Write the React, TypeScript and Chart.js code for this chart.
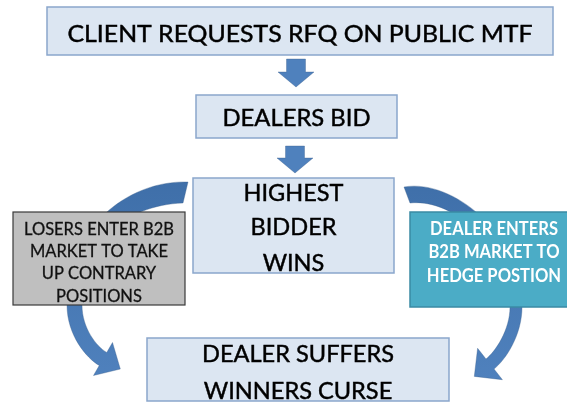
import { useEffect, useRef } from "react";
import { Chart, registerables } from "chart.js";

Chart.register(...registerables);

const W = 567;
const H = 402;

// ---- content ----
const stepNames = ["request", "bid", "winner", "losers", "hedge", "curse"];
const stepLines: string[][] = [
  ["CLIENT REQUESTS RFQ ON PUBLIC MTF"],
  ["DEALERS BID"],
  ["HIGHEST", "BIDDER", "WINS"],
  ["LOSERS ENTER B2B", "MARKET TO TAKE", "UP CONTRARY", "POSITIONS"],
  ["DEALER ENTERS", "B2B MARKET TO", "HEDGE POSTION"],
  ["DEALER SUFFERS", "WINNERS CURSE"],
];
const stepKinds = ["main", "main", "main", "gray", "teal", "main"];

// ---- layout (diagram units = px of the 567x402 picture) ----
const boxLayout: Record<string, { x0: number; x1: number; y0: number; y1: number; caps: number[]; font: number; fit: number }> = {
  request: { x0: 47, x1: 553, y0: 7, y1: 55, caps: [33], font: 23, fit: 465 },
  bid: { x0: 196, x1: 397, y0: 95, y1: 138, caps: [117], font: 23.5, fit: 148 },
  winner: { x0: 193, x1: 394, y0: 178, y1: 273, caps: [192.5, 226.5, 262], font: 24, fit: 100 },
  losers: { x0: 13, x1: 185, y0: 212, y1: 305, caps: [228, 250, 272.5, 295], font: 17.5, fit: 150 },
  hedge: { x0: 410, x1: 578, y0: 212, y1: 307, caps: [228, 250.5, 274.5], font: 19, fit: 128 },
  curse: { x0: 147, x1: 449, y0: 338, y1: 401, caps: [353.5, 390], font: 24, fit: 192 },
};

const straightArrows = [
  { cx: 296, top: 59, bottom: 87 },
  { cx: 295, top: 146, bottom: 173 },
];

type Pt = [number, number];
// curved arrows: path commands in diagram units
const curvedArrows: { segs: Pt[][] }[] = [
  {
    // left: from top of "winner" around behind "losers" down to "curse"
    segs: [
      [[188, 182]],
      [[120, 180], [62, 240], [67, 305]],
      [[67, 335], [86.3, 358], [99.25, 365.5]],
      [[93.5, 375.5]],
      [[120.3, 369]],
      [[112.5, 342.5]],
      [[106.75, 352.5]],
      [[96.4, 346.5], [82, 328], [82, 305]],
      [[78, 245], [125, 205], [183, 203]],
    ],
  },
  {
    // right: from top of "winner" around behind "hedge" down to "curse"
    segs: [
      [[404, 187]],
      [[455, 178], [525, 240], [522, 307]],
      [[522, 335], [505.7, 359.7], [494, 369]],
      [[502.4, 379.7]],
      [[474.3, 376.4]],
      [[477.6, 348.3]],
      [[486, 359]],
      [[495.4, 351.6], [510, 330], [510, 307]],
      [[512, 250], [455, 198], [410, 203]],
    ],
  },
];

const styles: Record<string, { fill: string; stroke: string; lw: number; color: string; weight: string; textStroke: number }> = {
  main: { fill: "#dce6f2", stroke: "#8aa6cc", lw: 1.5, color: "#000000", weight: "normal", textStroke: 0.45 },
  gray: { fill: "#bfbfbf", stroke: "#3a3a3a", lw: 1.2, color: "#111111", weight: "normal", textStroke: 0.3 },
  teal: { fill: "#4bacc6", stroke: "#3a8aa4", lw: 1.5, color: "#ffffff", weight: "bold", textStroke: 0 },
};

const FONT = "Lato, 'Noto Sans', sans-serif";

const diagramPlugin = {
  id: "diagram",
  afterDatasetsDraw(chart: any) {
    const ctx: CanvasRenderingContext2D = chart.ctx;
    const xs = chart.scales.x;
    const ys = chart.scales.y;
    const px = (v: number) => xs.getPixelForValue(v);
    const py = (v: number) => ys.getPixelForValue(v);

    ctx.save();
    // curved arrows first (they pass behind boxes)
    curvedArrows.forEach((a) => {
      ctx.beginPath();
      a.segs.forEach((s, i) => {
        if (i === 0) ctx.moveTo(px(s[0][0]), py(s[0][1]));
        else if (s.length === 1) ctx.lineTo(px(s[0][0]), py(s[0][1]));
        else ctx.bezierCurveTo(px(s[0][0]), py(s[0][1]), px(s[1][0]), py(s[1][1]), px(s[2][0]), py(s[2][1]));
      });
      ctx.closePath();
      const g = ctx.createLinearGradient(0, py(180), 0, py(380));
      g.addColorStop(0, "#3f6fa9");
      g.addColorStop(1, "#4f81bd");
      ctx.fillStyle = g;
      ctx.fill();
      ctx.strokeStyle = "rgba(56,93,138,0.6)";
      ctx.lineWidth = 0.6;
      ctx.stroke();
    });

    // straight arrows
    straightArrows.forEach((a) => {
      const shaftHalf = 9.5;
      const headHalf = 18;
      const headLen = 15;
      const hy = a.bottom - headLen;
      ctx.beginPath();
      ctx.moveTo(px(a.cx - shaftHalf), py(a.top));
      ctx.lineTo(px(a.cx + shaftHalf), py(a.top));
      ctx.lineTo(px(a.cx + shaftHalf), py(hy));
      ctx.lineTo(px(a.cx + headHalf), py(hy));
      ctx.lineTo(px(a.cx), py(a.bottom));
      ctx.lineTo(px(a.cx - headHalf), py(hy));
      ctx.lineTo(px(a.cx - shaftHalf), py(hy));
      ctx.closePath();
      ctx.fillStyle = "#4f81bd";
      ctx.fill();
      ctx.strokeStyle = "rgba(56,93,138,0.6)";
      ctx.lineWidth = 0.6;
      ctx.stroke();
    });

    stepNames.forEach((name, i) => {
      const b = boxLayout[name];
      const st = styles[stepKinds[i]];
      const x0 = px(b.x0), x1 = px(b.x1), y0 = py(b.y0), y1 = py(b.y1);
      ctx.fillStyle = st.fill;
      ctx.fillRect(x0, y0, x1 - x0, y1 - y0);
      ctx.strokeStyle = st.stroke;
      ctx.lineWidth = st.lw;
      ctx.strokeRect(x0, y0, x1 - x0, y1 - y0);

      ctx.font = `${st.weight} ${b.font}px ${FONT}`;
      ctx.fillStyle = st.color;
      ctx.strokeStyle = st.color;
      ctx.textAlign = "center";
      ctx.textBaseline = "alphabetic";
      const cap = ctx.measureText("H").actualBoundingBoxAscent;
      const sx = b.fit / ctx.measureText(stepLines[i][0]).width;
      const cx = (px(b.x0) + px(b.x1)) / 2;
      stepLines[i].forEach((line, j) => {
        const base = py(b.caps[j]) + cap / 2;
        ctx.save();
        ctx.translate(cx, base);
        ctx.scale(sx, 1);
        ctx.fillText(line, 0, 0);
        if (st.textStroke > 0) {
          ctx.lineWidth = st.textStroke;
          ctx.strokeText(line, 0, 0);
        }
        ctx.restore();
      });
    });
    ctx.restore();
  },
};

export default function App() {
  const ref = useRef<HTMLCanvasElement | null>(null);
  useEffect(() => {
    if (!ref.current) return;
    document.body.style.margin = "0";
    const anchors = stepNames.map((n) => {
      const b = boxLayout[n];
      return { x: (b.x0 + b.x1) / 2, y: (b.y0 + b.y1) / 2 };
    });
    const chart = new Chart(ref.current, {
      type: "scatter",
      data: {
        datasets: [
          { label: "steps", data: anchors, pointRadius: 0, pointHoverRadius: 0 },
        ],
      },
      options: {
        responsive: false,
        animation: false,
        events: [],
        layout: { padding: 0 },
        plugins: { legend: { display: false }, tooltip: { enabled: false }, title: { display: false } },
        scales: {
          x: { type: "linear", min: 0, max: W, display: false },
          y: { type: "linear", min: 0, max: H, reverse: true, display: false },
        },
      },
      plugins: [diagramPlugin],
    });
    return () => chart.destroy();
  }, []);
  return (
    <div style={{ position: "fixed", left: 0, top: 0, width: W, height: H, background: "#ffffff" }}>
      <canvas ref={ref} width={W} height={H} />
    </div>
  );
}
